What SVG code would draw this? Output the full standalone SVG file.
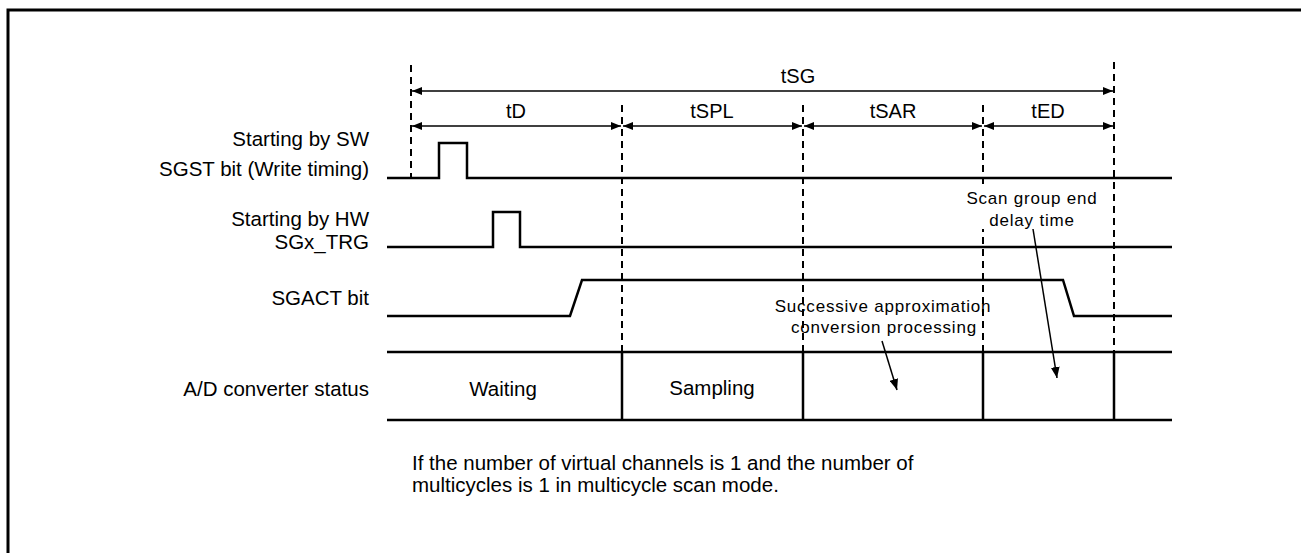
<svg xmlns="http://www.w3.org/2000/svg" width="1301" height="553" viewBox="0 0 1301 553">
<defs>
<style>
text{font-family:"Liberation Sans",Arial,sans-serif;fill:#000}
.lbl{font-size:20.5px;text-anchor:end}
.ctr{font-size:20.5px;text-anchor:middle}
.top{font-size:20px;text-anchor:middle}
.ann{font-size:17px;text-anchor:middle;letter-spacing:0.8px}
.note{font-size:20.5px}
.sig{fill:none;stroke:#000;stroke-width:2.5}
.dash{fill:none;stroke:#000;stroke-width:2;stroke-dasharray:7,5}
.dim{fill:none;stroke:#000;stroke-width:1.5}
.ptr{fill:none;stroke:#000;stroke-width:1.5}
</style>
<marker id="ah" viewBox="0 0 10 8" refX="10" refY="4" markerWidth="10" markerHeight="8" markerUnits="userSpaceOnUse" orient="auto-start-reverse">
<path d="M0,0 L10,4 L0,8 Z" fill="#000"/>
</marker>
<marker id="ah2" viewBox="0 0 10 8" refX="10" refY="4" markerWidth="11" markerHeight="9" markerUnits="userSpaceOnUse" orient="auto">
<path d="M0,0 L10,4 L0,8 Z" fill="#000"/>
</marker>
</defs>
<rect width="1301" height="553" fill="#fff"/>
<path d="M8,553 V10 H1301" fill="none" stroke="#000" stroke-width="3"/>

<g id="guides">
<line class="dash" x1="411" y1="65" x2="411" y2="178"/>
<line class="dash" x1="622" y1="105" x2="622" y2="352"/>
<line class="dash" x1="803" y1="105" x2="803" y2="352"/>
<line class="dash" x1="983" y1="105" x2="983" y2="352"/>
<line class="dash" x1="1114" y1="62" x2="1114" y2="352"/>
</g>

<g id="timing-labels">
<text class="top" x="798" y="83">tSG</text>
<text class="top" x="516" y="118">tD</text>
<text class="top" x="712" y="118">tSPL</text>
<text class="top" x="893" y="118">tSAR</text>
<text class="top" x="1048" y="118">tED</text>
</g>

<g id="connectors">
<line class="dim" x1="412" y1="91" x2="1113" y2="91" marker-start="url(#ah)" marker-end="url(#ah)"/>
<line class="dim" x1="412" y1="126" x2="621" y2="126" marker-start="url(#ah)" marker-end="url(#ah)"/>
<line class="dim" x1="623" y1="126" x2="802" y2="126" marker-start="url(#ah)" marker-end="url(#ah)"/>
<line class="dim" x1="804" y1="126" x2="982" y2="126" marker-start="url(#ah)" marker-end="url(#ah)"/>
<line class="dim" x1="984" y1="126" x2="1113" y2="126" marker-start="url(#ah)" marker-end="url(#ah)"/>
<line class="ptr" x1="1033" y1="229" x2="1057" y2="378" marker-end="url(#ah2)"/>
<line class="ptr" x1="882" y1="341" x2="897" y2="390" marker-end="url(#ah2)"/>
</g>

<g id="sw-start">
<text class="lbl" x="369" y="146">Starting by SW</text>
<text class="lbl" x="369" y="176">SGST bit (Write timing)</text>
<path class="sig" d="M387,178 H439 V143 H467 V178 H1172"/>
</g>

<g id="hw-start">
<text class="lbl" x="369" y="226">Starting by HW</text>
<text class="lbl" x="369" y="249">SGx_TRG</text>
<path class="sig" d="M387,247 H493 V212 H520 V247 H1172"/>
</g>

<g id="sgact">
<text class="lbl" x="369" y="305">SGACT bit</text>
<path class="sig" d="M387,316 H570 L582,280 H1063 L1074,316 H1172"/>
</g>

<g id="status">
<text class="lbl" x="369" y="396">A/D converter status</text>
<path class="sig" d="M387,352 H1172 M387,420 H1172 M622,352 V420 M803,352 V420 M983,352 V420 M1114,352 V420"/>
<text class="ctr" x="503" y="396">Waiting</text>
<text class="ctr" x="712" y="395">Sampling</text>
</g>

<g id="end-delay-note">
<rect x="965" y="185" width="135" height="44" fill="#fff"/>
<text class="ann" x="1032" y="204">Scan group end</text>
<text class="ann" x="1032" y="226">delay time</text>
</g>

<g id="sar-note">
<text class="ann" x="883" y="312">Successive approximation</text>
<text class="ann" x="884" y="333">conversion processing</text>
</g>

<g id="footnote">
<text class="note" x="412" y="470">If the number of virtual channels is 1 and the number of</text>
<text class="note" x="412" y="492">multicycles is 1 in multicycle scan mode.</text>
</g>
</svg>
